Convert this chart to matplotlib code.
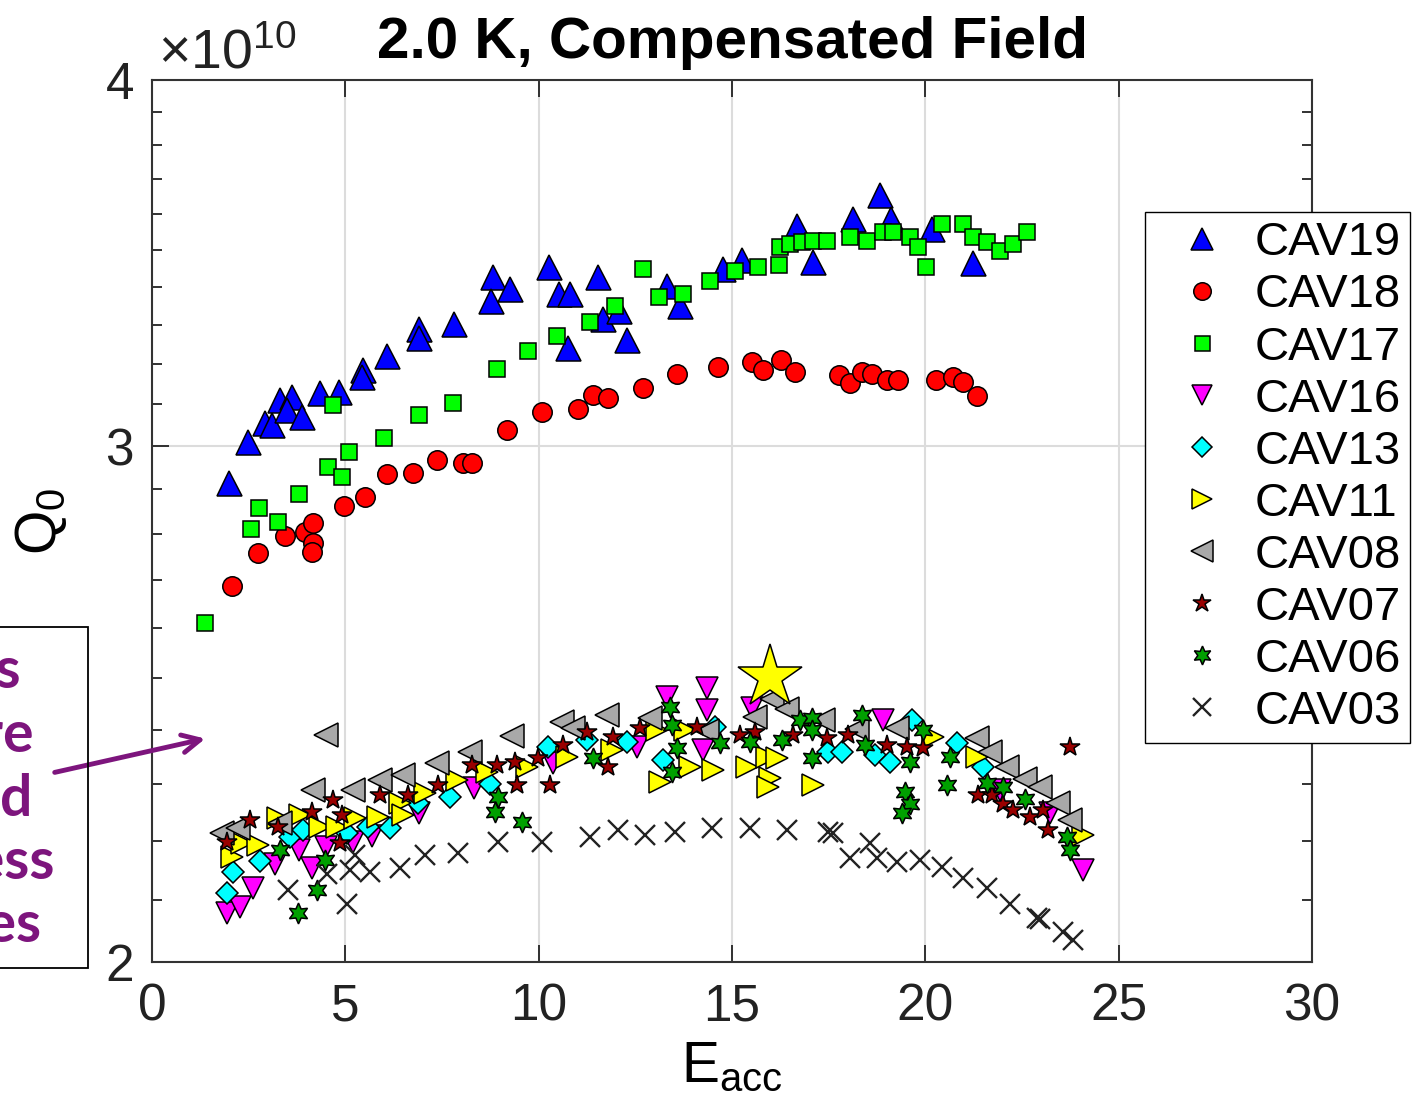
import numpy as np
import matplotlib.pyplot as plt
from matplotlib.ticker import FixedLocator, FixedFormatter, NullFormatter
from matplotlib.patches import Rectangle

plt.rcParams['font.family'] = ['Liberation Sans', 'DejaVu Sans']
plt.rcParams['mathtext.default'] = 'regular'

# Eacc [MV/m] e Q0 [x1e10] por cavidade
e19 = [1.99, 2.48, 2.92, 3.10, 3.31, 3.62, 3.49, 3.88, 4.34, 4.84, 5.46, 5.43, 6.08, 6.90, 6.90, 7.81,
       8.82, 8.77, 9.26, 10.27, 10.52, 10.81, 10.76, 11.53, 11.66, 12.08, 12.28, 13.32, 13.65, 14.77,
       15.26, 16.68, 17.09, 18.13, 18.83, 19.11, 20.17, 21.23]
q19 = [2.915, 3.010, 3.056, 3.051, 3.111, 3.119, 3.087, 3.070, 3.128, 3.131, 3.186, 3.168, 3.219, 3.288,
       3.267, 3.301, 3.425, 3.361, 3.393, 3.452, 3.380, 3.380, 3.241, 3.425, 3.314, 3.335, 3.262, 3.401,
       3.348, 3.447, 3.473, 3.566, 3.468, 3.585, 3.655, 3.585, 3.557, 3.465]

e18 = [2.07, 2.74, 3.44, 3.96, 4.16, 4.16, 4.14, 4.97, 5.51, 6.08, 6.75, 7.37, 8.04, 8.28, 9.18, 10.09,
       11.02, 11.40, 11.79, 12.70, 13.58, 14.64, 15.52, 15.80, 16.27, 16.63, 17.77, 18.05, 18.36, 18.62,
       19.01, 19.29, 20.27, 20.71, 20.97, 21.33]
q18 = [2.688, 2.758, 2.796, 2.803, 2.824, 2.780, 2.761, 2.862, 2.883, 2.934, 2.938, 2.968, 2.961, 2.961,
       3.039, 3.082, 3.089, 3.124, 3.116, 3.141, 3.176, 3.193, 3.206, 3.186, 3.211, 3.181, 3.173, 3.153,
       3.181, 3.176, 3.161, 3.161, 3.161, 3.168, 3.156, 3.121]

e17 = [1.37, 2.56, 2.77, 3.26, 3.80, 4.55, 4.91, 4.68, 5.09, 6.00, 6.90, 7.78, 8.92, 9.72, 10.47, 11.33,
       11.97, 12.70, 13.11, 13.73, 14.43, 15.08, 15.67, 16.21, 16.24, 16.50, 16.81, 17.09, 17.45, 18.05,
       18.49, 18.90, 19.16, 19.60, 19.81, 20.02, 20.43, 20.97, 21.23, 21.59, 21.93, 22.27, 22.63]
q17 = [2.611, 2.811, 2.858, 2.827, 2.890, 2.950, 2.929, 3.099, 2.986, 3.020, 3.075, 3.104, 3.188, 3.233,
       3.270, 3.306, 3.348, 3.447, 3.372, 3.380, 3.415, 3.442, 3.452, 3.460, 3.509, 3.515, 3.521, 3.524,
       3.524, 3.535, 3.524, 3.549, 3.549, 3.535, 3.509, 3.452, 3.571, 3.571, 3.535, 3.521, 3.496, 3.515,
       3.549]

e16 = [1.94, 2.28, 2.61, 3.18, 3.80, 4.14, 4.50, 5.20, 5.69, 6.90, 8.33, 10.37, 12.54, 13.32, 14.35,
       14.35, 14.25, 15.52, 18.90, 21.93, 23.22, 24.08]
q16 = [2.078, 2.088, 2.119, 2.160, 2.184, 2.153, 2.189, 2.197, 2.208, 2.248, 2.293, 2.339, 2.368, 2.463,
       2.480, 2.438, 2.362, 2.442, 2.419, 2.289, 2.248, 2.150]

e13 = [1.94, 2.09, 2.79, 3.57, 3.90, 5.04, 5.59, 6.15, 6.88, 7.71, 8.74, 10.24, 11.25, 12.28, 13.21,
       14.56, 17.48, 17.84, 18.70, 19.08, 19.65, 20.82, 21.49]
q13 = [2.111, 2.146, 2.165, 2.206, 2.218, 2.213, 2.224, 2.222, 2.267, 2.276, 2.300, 2.368, 2.381, 2.377,
       2.344, 2.406, 2.358, 2.358, 2.353, 2.340, 2.419, 2.375, 2.331]

e11 = [2.07, 2.33, 2.74, 3.26, 3.83, 4.34, 4.78, 5.25, 5.84, 6.41, 6.49, 7.06, 7.89, 8.66, 9.70, 10.73,
       11.90, 13.06, 13.14, 13.78, 13.91, 14.51, 15.39, 15.90, 16.16, 15.98, 15.93, 17.09, 20.20, 21.33,
       24.08]
q11 = [2.172, 2.196, 2.192, 2.240, 2.245, 2.224, 2.224, 2.240, 2.241, 2.267, 2.245, 2.284, 2.307, 2.322,
       2.331, 2.349, 2.362, 2.400, 2.303, 2.400, 2.331, 2.326, 2.331, 2.349, 2.348, 2.312, 2.295, 2.298,
       2.387, 2.349, 2.210]

e08 = [1.81, 2.22, 3.31, 4.16, 4.50, 5.20, 5.90, 6.49, 7.37, 8.22, 9.31, 10.60, 10.89, 11.77, 12.88,
       14.35, 15.59, 16.03, 16.42, 17.35, 18.23, 19.27, 21.33, 21.67, 22.11, 22.58, 22.96, 23.43, 23.74]
q08 = [2.213, 2.222, 2.231, 2.289, 2.390, 2.289, 2.307, 2.317, 2.339, 2.358, 2.389, 2.415, 2.404, 2.428,
       2.423, 2.398, 2.425, 2.459, 2.440, 2.419, 2.402, 2.404, 2.385, 2.358, 2.331, 2.310, 2.294, 2.267,
       2.236]

e07 = [1.94, 2.53, 3.26, 4.14, 4.68, 4.91, 4.86, 5.90, 6.62, 7.40, 8.28, 8.92, 9.39, 9.44, 9.98, 10.29,
       10.63, 11.25, 11.92, 11.79, 12.62, 14.09, 15.21, 15.59, 16.58, 17.45, 18.00, 19.01, 19.52, 19.94,
       21.36, 21.72, 22.01, 22.27, 22.70, 23.04, 23.17, 23.74]
q07 = [2.198, 2.236, 2.224, 2.250, 2.271, 2.245, 2.196, 2.280, 2.280, 2.298, 2.335, 2.335, 2.340, 2.298,
       2.348, 2.298, 2.371, 2.396, 2.387, 2.331, 2.404, 2.406, 2.391, 2.396, 2.391, 2.385, 2.391, 2.372,
       2.368, 2.366, 2.280, 2.280, 2.265, 2.254, 2.241, 2.254, 2.218, 2.368]

e06 = [3.31, 3.78, 4.27, 4.47, 8.87, 8.95, 9.57, 11.40, 13.40, 13.45, 13.58, 13.45, 14.69, 15.46, 16.29,
       16.76, 17.07, 17.07, 17.07, 18.36, 18.44, 19.60, 19.94, 19.47, 19.60, 19.40, 20.56, 20.64, 21.59,
       22.01, 22.58, 23.66, 23.74]
q06 = [2.184, 2.078, 2.116, 2.167, 2.250, 2.276, 2.233, 2.348, 2.444, 2.409, 2.366, 2.322, 2.375, 2.377,
       2.381, 2.419, 2.423, 2.400, 2.348, 2.428, 2.372, 2.340, 2.400, 2.285, 2.265, 2.248, 2.298, 2.349,
       2.302, 2.294, 2.274, 2.206, 2.184]

e03 = [3.52, 5.04, 4.53, 5.12, 5.64, 5.25, 6.41, 7.06, 7.91, 8.95, 10.09, 11.33, 12.05, 12.75, 13.52,
       14.48, 15.46, 16.42, 17.48, 17.61, 18.05, 18.57, 18.75, 19.27, 19.86, 20.43, 20.97, 21.59, 22.19,
       22.89, 22.96, 23.56, 23.82]
q03 = [2.116, 2.094, 2.143, 2.150, 2.147, 2.176, 2.153, 2.176, 2.179, 2.198, 2.198, 2.206, 2.218, 2.210,
       2.215, 2.222, 2.222, 2.218, 2.215, 2.213, 2.170, 2.196, 2.170, 2.164, 2.167, 2.155, 2.136, 2.119,
       2.094, 2.070, 2.069, 2.047, 2.035]

# ponto destacado (estrela grande)
e_destaque = [15.98]
q_destaque = [2.502]

series = [
    ('CAV19', e19, q19, '^', '#0000ff', 18),
    ('CAV18', e18, q18, 'o', '#ff0000', 14),
    ('CAV17', e17, q17, 's', '#00ff00', 12),
    ('CAV16', e16, q16, 'v', '#ff00ff', 16),
    ('CAV13', e13, q13, 'D', '#00ffff', 11),
    ('CAV11', e11, q11, '>', '#ffff00', 16),
    ('CAV08', e08, q08, '<', '#a8a8a8', 17),
    ('CAV07', e07, q07, '*', '#990000', 15),
    ('CAV06', e06, q06, (6, 1, 0), '#00a000', 15),
    ('CAV03', e03, q03, 'x', '#222222', 14),
]

fig = plt.figure(figsize=(14.14, 11.13), dpi=100)
ax = fig.add_axes([0.1075, 0.1357, 0.8204, 0.7924])

handles = []
for i, (nome, e, q, mk, cor, ms) in enumerate(series):
    if mk == 'x':
        h, = ax.plot(e, q, ls='none', marker=mk, ms=ms, color=cor, mew=1.7, label=nome, zorder=3 + i)
    else:
        h, = ax.plot(e, q, ls='none', marker=mk, ms=ms, mfc=cor, mec='black', mew=1.1,
                     label=nome, zorder=3 + i)
    handles.append(h)

ax.plot(e_destaque, q_destaque, ls='none', marker='*', ms=48, mfc='#ffff00', mec='black', mew=1.1,
        zorder=20)

# eixos
ax.set_yscale('log')
ax.set_xlim(0, 30)
ax.set_ylim(2, 4)
ax.set_xticks(np.arange(0, 31, 5))
ax.yaxis.set_major_locator(FixedLocator([2, 3, 4]))
ax.yaxis.set_major_formatter(FixedFormatter(['2', '3', '4']))
ax.yaxis.set_minor_locator(FixedLocator(np.arange(2.1, 4.0, 0.1)))
ax.yaxis.set_minor_formatter(NullFormatter())
ax.tick_params(which='both', direction='in', top=True, right=True, labelsize=37, width=1.3,
               colors='#222222')
ax.tick_params(axis='x', pad=15)
ax.tick_params(axis='y', pad=13)
ax.tick_params(which='major', length=12)
ax.tick_params(which='minor', length=7)
for sp in ax.spines.values():
    sp.set_linewidth(1.5)
    sp.set_color('#333333')
ax.grid(True, which='major', color='#dcdcdc', linewidth=1.5)
ax.set_axisbelow(True)

ax.set_xlabel(r'$E_{acc}$', fontsize=41, labelpad=6)
ax.set_ylabel(r'$Q_0$', fontsize=41, labelpad=26)
ax.set_title('2.0 K, Compensated Field', fontsize=42, fontweight='bold', pad=16)
ax.text(0.005, 1.0, r'$\times10^{10}$', transform=ax.transAxes, fontsize=40, color='#222222',
        ha='left', va='bottom')

fig.legend(handles=handles, loc='upper left', bbox_to_anchor=(1145 / 1414, 1 - 212 / 1113),
           borderaxespad=0, fontsize=34, frameon=True, fancybox=False, edgecolor='black',
           framealpha=1, labelspacing=0.17, handletextpad=0.12, borderpad=0.2, handlelength=2.0,
           markerscale=0.9)

# caixa de texto lateral com seta
roxo = '#7d157d'
fig.patches.append(Rectangle((-0.2, 1 - 968 / 1113), 0.2 + 88 / 1414, (968 - 627) / 1113,
                             transform=fig.transFigure, fill=False, edgecolor='black', lw=1.3))
linhas = ['Cavities', 'that were', 'processed', 'with less', 'EP passes']
fim_x = [21, 33, 33, 54, 41]
for k, (txt, xf) in enumerate(zip(linhas, fim_x)):
    fig.text(xf / 1414, 1 - (672 + 63.5 * k) / 1113, txt, family=['Lato', 'DejaVu Sans'],
             fontweight='bold', fontsize=41, color=roxo, ha='right', va='center')
ax.annotate('', xy=(208, 1113 - 738), xycoords='figure pixels', xytext=(52, 1113 - 773),
            textcoords='figure pixels',
            arrowprops=dict(arrowstyle='->', lw=3.5, color=roxo, mutation_scale=32))

fig.savefig('out.png', dpi=100)
